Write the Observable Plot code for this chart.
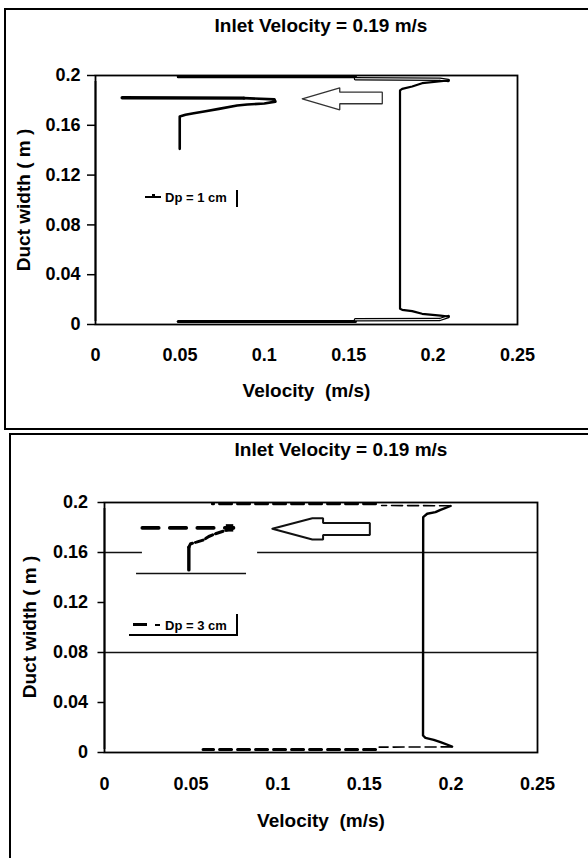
<!DOCTYPE html>
<html>
<head>
<meta charset="utf-8">
<script src="https://cdn.jsdelivr.net/npm/d3@7"></script>
<script src="https://cdn.jsdelivr.net/npm/@observablehq/plot@0.6"></script>
<style>
  body { margin: 0; background: #fff; }
  #root { position: relative; width: 588px; height: 858px; overflow: hidden; background: #fff;
          font-family: "Liberation Sans", Arial, sans-serif; color: #000; }
  .panel { position: absolute; border: 2px solid #000; box-sizing: border-box; }
  .title { position: absolute; font-weight: bold; font-size: 19px; white-space: nowrap;
           transform: translate(-50%, -50%); line-height: 1; }
  .ytitle { position: absolute; font-weight: bold; font-size: 19px; white-space: nowrap;
            transform: translate(-50%, -50%) rotate(-90deg); line-height: 1; }
  .chart { position: absolute; left: 0; }
  .leg { position: absolute; font-size: 13px; font-weight: bold; white-space: nowrap; line-height: 1;
         transform: translateY(-50%); }
  .blk { position: absolute; background: #000; }
</style>
</head>
<body>
<div id="root">
  <div class="panel" style="left:4px;top:8px;width:700px;height:422px;"></div>
  <div class="panel" style="left:9px;top:433px;width:700px;height:500px;"></div>
  <div id="c1" class="chart" style="top:0px;"></div>
  <div id="c2" class="chart" style="top:430px;"></div>
</div>
<script>
// ---------- shared axis data ----------
const xDomain = [0, 0.25];
const yDomain = [0, 0.2];
const xTicks = [0, 0.05, 0.1, 0.15, 0.2, 0.25];
const yTicks = [0, 0.04, 0.08, 0.12, 0.16, 0.2];
const chartTitle = "Inlet Velocity = 0.19 m/s";
const xTitle = "Velocity \u00a0(m/s)";
const yTitle = "Duct width ( m )";
const legend1 = "Dp = 1 cm";
const legend2 = "Dp = 3 cm";

// ---------- chart 1 : Dp = 1 cm ----------
// outer profile (bulk flow), ordered from top wall to bottom wall
const p1OuterVel = [0.209, 0.1935, 0.1876, 0.1817, 0.1804, 0.1804, 0.1817, 0.1876, 0.1935, 0.2044, 0.209];
const p1OuterWid = [0.196, 0.1938, 0.1912, 0.1893, 0.188, 0.0126, 0.0118, 0.0107, 0.0086, 0.0072, 0.0064];
// near-wall segments
const p1TopWallVel = [0.049, 0.154];
const p1TopWallWid = [0.1990, 0.1990];
const p1TopLinkVel = [0.154, 0.204, 0.209];
const p1TopLinkWid = [0.1974, 0.1970, 0.196];
const p1BotLinkVel = [0.209, 0.204, 0.154];
const p1BotLinkWid = [0.0064, 0.0040, 0.0038];
const p1BotWallVel = [0.154, 0.049];
const p1BotWallWid = [0.0024, 0.0024];
// partial profile near the inlet
const p1InnerVel = [0.0499, 0.0499, 0.0533, 0.0582, 0.0652, 0.0731, 0.0839, 0.0899, 0.1000, 0.1066, 0.1060, 0.0879];
const p1InnerWid = [0.1411, 0.167, 0.1684, 0.1697, 0.1713, 0.1732, 0.1759, 0.1767, 0.1775, 0.1790, 0.1808, 0.1818];
const p1JetVel = [0.0879, 0.0158];
const p1JetWid = [0.1818, 0.1821];
// flow-direction arrow (annotation, data units)
const arrow1Vel = [0.1225, 0.1447, 0.1447, 0.1699, 0.1699, 0.1447, 0.1447, 0.1225];
const arrow1Wid = [0.1813, 0.1901, 0.1866, 0.1866, 0.1773, 0.1773, 0.1724, 0.1813];

// ---------- chart 2 : Dp = 3 cm ----------
const p2OuterVel = [0.1998, 0.194, 0.1911, 0.1863, 0.184, 0.1839, 0.1853, 0.1901, 0.194, 0.2007];
const p2OuterWid = [0.1972, 0.1941, 0.1923, 0.191, 0.1883, 0.0136, 0.0117, 0.0101, 0.0083, 0.0048];
const p2TopThinVel = [0.1998, 0.1600];
const p2TopThinWid = [0.1974, 0.1976];
const p2TopWallVel = [0.1565, 0.0623];
const p2TopWallWid = [0.1990, 0.1990];
const p2BotThinVel = [0.2007, 0.1586];
const p2BotThinWid = [0.0045, 0.0043];
const p2BotWallVel = [0.1565, 0.0569];
const p2BotWallWid = [0.0024, 0.0024];
// partial profile near the inlet: jet part (from its left end) and wall-side part
const p2JetVel = [0.0218, 0.0745];
const p2JetWid = [0.1797, 0.1797];
const p2CurveVel = [0.0745, 0.0641, 0.0602, 0.0573, 0.0531, 0.0497, 0.0487];
const p2CurveWid = [0.1797, 0.175, 0.1728, 0.1701, 0.1683, 0.167, 0.1643];
const p2WallVel = [0.0487, 0.0487];
const p2WallWid = [0.1643, 0.1461];
const arrow2Vel = [0.0969, 0.1200, 0.1262, 0.1262, 0.1532, 0.1532, 0.1262, 0.1262, 0.1200, 0.0969];
const arrow2Wid = [0.1790, 0.1874, 0.1874, 0.1837, 0.1837, 0.1741, 0.1741, 0.1704, 0.1704, 0.1790];
// horizontal grid lines and the pasted-box edges in chart 2
const grid2Values = [0.08, 0.16];
const grid2Gap = [0.0219, 0.0884];          // gap in the 0.16 grid line
const box2Edge = {w: 0.1432, v1: 0.0185, v2: 0.082};

const zip = (v, w) => v.map((d, i) => ({v: d, w: w[i]}));

function makeChart(cfg) {
  const edge = {stroke: "#000", strokeWidth: 1.8};
  return Plot.plot({
    width: 588, height: cfg.height,
    marginTop: cfg.marginTop, marginLeft: cfg.marginLeft,
    marginRight: cfg.marginRight, marginBottom: cfg.marginBottom,
    x: {domain: xDomain, label: null},
    y: {domain: yDomain, label: null},
    style: {fontFamily: '"Liberation Sans", Arial, sans-serif', fontSize: "18px", fontWeight: "bold",
            color: "#000", background: "transparent", overflow: "visible"},
    marks: [
      ...cfg.before,
      ...cfg.marks,
      Plot.frame(edge),
      Plot.ruleX([xDomain[0]], {y1: yDomain[0], y2: yDomain[1], insetTop: -3, insetBottom: -6, ...edge}),
      Plot.axisY({ticks: yTicks, tickSize: cfg.tickSize, tickPadding: cfg.tickPadding,
                  tickFormat: d => String(d), label: null, strokeWidth: 1.5}),
      Plot.axisX({ticks: xTicks, tickSize: 0, tickPadding: cfg.xPad,
                  tickFormat: d => String(d), label: null}),
      Plot.text([xTitle], {text: d => d, frameAnchor: "bottom", dy: cfg.xTitleDy, lineAnchor: "top",
                           fontSize: 19, fontWeight: "bold"})
    ]
  });
}

const L = (v, w, opts) => Plot.line(zip(v, w), {x: "v", y: "w", stroke: "#000", strokeLinejoin: "round", ...opts});

// chart 1
const chart1 = makeChart({
  height: 430, marginTop: 75, marginLeft: 95, marginRight: 71, marginBottom: 106,
  tickSize: 8, tickPadding: 7, xPad: 24, xTitleDy: 59,
  before: [],
  marks: [
    L(p1TopWallVel, p1TopWallWid, {strokeWidth: 3}),
    L(p1BotWallVel, p1BotWallWid, {strokeWidth: 3}),
    L(p1TopLinkVel, p1TopLinkWid, {strokeWidth: 3.4}),
    L(p1TopLinkVel, p1TopLinkWid, {stroke: "#fff", strokeWidth: 1}),
    L(p1BotLinkVel, p1BotLinkWid, {strokeWidth: 3.4}),
    L(p1BotLinkVel, p1BotLinkWid, {stroke: "#fff", strokeWidth: 1}),
    L(p1OuterVel, p1OuterWid, {strokeWidth: 2.2}),
    L(p1InnerVel, p1InnerWid, {strokeWidth: 2.6}),
    L(p1JetVel, p1JetWid, {strokeWidth: 3.4}),
    L(arrow1Vel, arrow1Wid, {stroke: "#333", strokeWidth: 1.3, strokeLinejoin: "miter"})
  ]
});
document.getElementById("c1").appendChild(chart1);

// chart 2
const chart2 = makeChart({
  height: 428, marginTop: 72, marginLeft: 104, marginRight: 51, marginBottom: 106,
  tickSize: 6.5, tickPadding: 10, xPad: 25, xTitleDy: 61,
  before: [
    Plot.ruleY(grid2Values.filter(d => d !== 0.16), {x1: xDomain[0], x2: xDomain[1], stroke: "#111", strokeWidth: 1.4}),
    Plot.ruleY([0.16], {x1: xDomain[0], x2: grid2Gap[0], stroke: "#111", strokeWidth: 1.4}),
    Plot.ruleY([0.16], {x1: grid2Gap[1], x2: xDomain[1], stroke: "#111", strokeWidth: 1.4}),
    Plot.ruleY([box2Edge.w], {x1: box2Edge.v1, x2: box2Edge.v2, stroke: "#111", strokeWidth: 1.3})
  ],
  marks: [
    L(p2TopWallVel, p2TopWallWid, {strokeWidth: 3, strokeDasharray: "12,6"}),
    L(p2BotWallVel, p2BotWallWid, {strokeWidth: 3, strokeDasharray: "12,6"}),
    L(p2TopThinVel, p2TopThinWid, {strokeWidth: 1.6, strokeDasharray: "11,5"}),
    L(p2BotThinVel, p2BotThinWid, {strokeWidth: 1.6, strokeDasharray: "11,5"}),
    L(p2OuterVel, p2OuterWid, {strokeWidth: 2.4}),
    L(p2JetVel, p2JetWid, {strokeWidth: 3.6, strokeDasharray: "16.5,11"}),
    L(p2CurveVel, p2CurveWid, {strokeWidth: 3, strokeDasharray: "8,3"}),
    L(p2WallVel, p2WallWid, {strokeWidth: 3.4}),
    Plot.dot(zip(p2JetVel, p2JetWid).slice(1), {x: "v", y: "w", symbol: "square", r: 4.2, dx: -4,
                                                fill: "#000", stroke: "none"}),
    L(arrow2Vel, arrow2Wid, {stroke: "#111", strokeWidth: 2, strokeLinejoin: "miter"})
  ]
});
document.getElementById("c2").appendChild(chart2);

// titles and legends (HTML overlays)
const root = document.getElementById("root");
function addDiv(cls, style, text) {
  const d = document.createElement("div");
  d.className = cls;
  d.setAttribute("style", style);
  if (text != null) d.textContent = text;
  root.appendChild(d);
  return d;
}
addDiv("title", "left:321px;top:25px;", chartTitle);
addDiv("title", "left:341px;top:449px;", chartTitle);
addDiv("ytitle", "left:23px;top:200px;", yTitle);
addDiv("ytitle", "left:29px;top:627px;", yTitle);

// legend 1
addDiv("blk", "left:145px;top:196px;width:16px;height:2px;");
addDiv("blk", "left:152px;top:194px;width:3px;height:4px;");
addDiv("leg", "left:165px;top:197px;", legend1);
addDiv("blk", "left:236px;top:190px;width:1.6px;height:17px;");
// legend 2
addDiv("blk", "left:133px;top:623px;width:14px;height:2.5px;");
addDiv("blk", "left:155px;top:623.5px;width:5px;height:2px;");
addDiv("leg", "left:165px;top:625px;", legend2);
addDiv("blk", "left:236px;top:614px;width:1.6px;height:21px;");
addDiv("blk", "left:129px;top:634px;width:109px;height:1.6px;");
</script>
</body>
</html>
